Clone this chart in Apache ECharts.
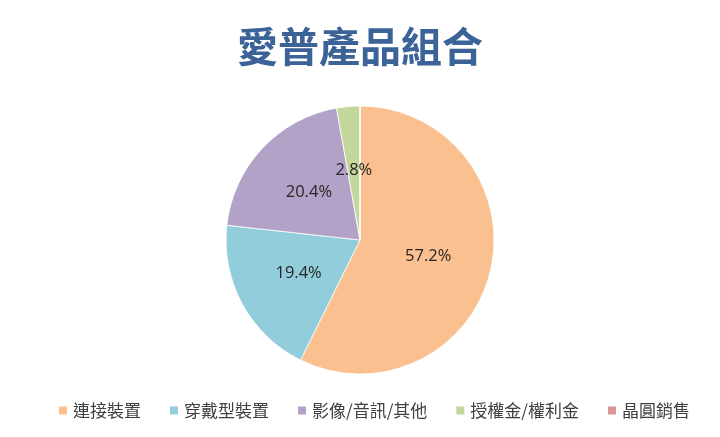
<!DOCTYPE html>
<html><head><meta charset="utf-8">
<script src="https://cdn.jsdelivr.net/npm/echarts@6/dist/echarts.min.js"></script>
<style>html,body{margin:0;padding:0;background:#fff}#c{width:720px;height:437px}</style>
</head><body><div id="c"></div>
<script>
const categories = ['連接裝置','穿戴型裝置','影像/音訊/其他','授權金/權利金','晶圓銷售'];
const values = [57.2, 19.4, 20.4, 2.8, 0];
const colors = ['#fac090','#92cddc','#b3a2c7','#c3d69b','#d99694'];
const chart = echarts.init(document.getElementById('c'));
chart.setOption({
  backgroundColor:'#fff',
  animation:false,
  color: colors,
  title:{text:'愛普產品組合', left:'center', top:21,
    textStyle:{fontFamily:'Noto Sans CJK TC', fontSize:41, fontWeight:'bold', color:'#3b6397'}},
  legend:{bottom:13, left:52, itemWidth:10, itemHeight:10, itemGap:27, icon:'rect',
    textStyle:{fontFamily:'Noto Sans CJK TC', fontSize:17, color:'#404040'},
    data: categories},
  series:[{
    type:'pie', center:[360,240], radius:134, startAngle:90, clockwise:true,
    data: categories.map((n,i)=>({name:n, value:values[i]})),
    itemStyle:{borderColor:'#fff', borderWidth:0.8},
    label:{position:'inside', fontFamily:'Open Sans', fontSize:16.5, color:'#262626',
      formatter:p=> p.value>0 ? p.value.toFixed(1)+'%' : ''},
    labelLine:{show:false},
    emphasis:{disabled:true}
  }]
});
</script></body></html>
